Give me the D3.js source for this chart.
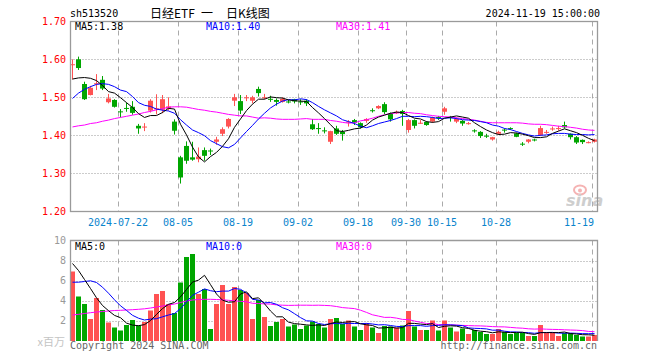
<!DOCTYPE html>
<html><head><meta charset="utf-8">
<script src="https://cdn.jsdelivr.net/npm/d3@7"></script>
<style>
html,body{margin:0;padding:0;background:#fff;}
svg{display:block;}
text{font-family:"DejaVu Sans Mono",monospace;font-size:10px;}
</style></head><body>
<svg id="c" width="660" height="360"></svg>
<script>
const dates = [
"2024-07-10","2024-07-11","2024-07-12","2024-07-15","2024-07-16","2024-07-17","2024-07-18","2024-07-19","2024-07-22","2024-07-23",
"2024-07-24","2024-07-25","2024-07-26","2024-07-29","2024-07-30","2024-07-31","2024-08-01","2024-08-02","2024-08-05","2024-08-06",
"2024-08-07","2024-08-08","2024-08-09","2024-08-12","2024-08-13","2024-08-14","2024-08-15","2024-08-16","2024-08-19","2024-08-20",
"2024-08-21","2024-08-22","2024-08-23","2024-08-26","2024-08-27","2024-08-28","2024-08-29","2024-08-30","2024-09-02","2024-09-03",
"2024-09-04","2024-09-05","2024-09-06","2024-09-09","2024-09-10","2024-09-11","2024-09-12","2024-09-13","2024-09-18","2024-09-19",
"2024-09-20","2024-09-23","2024-09-24","2024-09-25","2024-09-26","2024-09-27","2024-09-30","2024-10-08","2024-10-09","2024-10-10",
"2024-10-11","2024-10-14","2024-10-15","2024-10-16","2024-10-17","2024-10-18","2024-10-21","2024-10-22","2024-10-23","2024-10-24",
"2024-10-25","2024-10-28","2024-10-29","2024-10-30","2024-10-31","2024-11-01","2024-11-04","2024-11-05","2024-11-06","2024-11-07",
"2024-11-08","2024-11-11","2024-11-12","2024-11-13","2024-11-14","2024-11-15","2024-11-18","2024-11-19"];
const tickDates = ["2024-07-22","2024-08-05","2024-08-19","2024-09-02","2024-09-18","2024-09-30","2024-10-15","2024-10-28","2024-11-19"];
const tickLabels = ["2024-07-22","08-05","08-19","09-02","09-18","09-30","10-15","10-28","11-19"];
const open = [
1.585,1.600,1.535,1.506,1.535,1.546,1.487,1.493,1.463,1.472,
1.475,1.425,1.422,1.465,1.470,1.467,1.470,1.436,1.342,1.372,
1.342,1.337,1.361,1.360,1.383,1.404,1.423,1.491,1.490,1.499,
1.491,1.522,1.499,1.496,1.493,1.488,1.489,1.495,1.489,1.491,
1.429,1.419,1.413,1.383,1.418,1.409,1.435,1.440,1.432,1.438,
1.466,1.471,1.482,1.456,1.458,1.464,1.414,1.440,1.432,1.435,
1.436,1.448,1.462,1.448,1.436,1.438,1.431,1.413,1.409,1.399,
1.389,1.404,1.415,1.419,1.405,1.378,1.383,1.389,1.401,1.408,
1.417,1.418,1.427,1.404,1.395,1.388,1.381,1.383];
const high = [
1.600,1.607,1.541,1.530,1.561,1.556,1.509,1.495,1.469,1.486,
1.490,1.430,1.432,1.495,1.508,1.506,1.500,1.442,1.346,1.384,
1.383,1.368,1.368,1.365,1.396,1.421,1.445,1.509,1.506,1.506,
1.504,1.528,1.509,1.504,1.497,1.500,1.493,1.496,1.495,1.495,
1.443,1.432,1.421,1.412,1.425,1.414,1.440,1.443,1.434,1.445,
1.471,1.479,1.487,1.460,1.465,1.467,1.443,1.442,1.440,1.437,
1.449,1.451,1.475,1.451,1.447,1.440,1.435,1.416,1.411,1.404,
1.396,1.412,1.418,1.421,1.407,1.382,1.390,1.391,1.425,1.414,
1.423,1.425,1.436,1.405,1.398,1.389,1.384,1.391];
const low = [
1.547,1.572,1.493,1.505,1.519,1.519,1.484,1.473,1.447,1.462,
1.454,1.404,1.411,1.460,1.455,1.458,1.465,1.402,1.273,1.325,
1.333,1.329,1.333,1.348,1.375,1.398,1.418,1.477,1.456,1.490,
1.484,1.502,1.495,1.488,1.478,1.486,1.484,1.484,1.480,1.477,
1.414,1.404,1.405,1.377,1.401,1.386,1.423,1.427,1.418,1.433,
1.460,1.469,1.456,1.436,1.456,1.425,1.407,1.418,1.430,1.425,
1.433,1.440,1.454,1.436,1.432,1.425,1.428,1.407,1.393,1.393,
1.386,1.401,1.407,1.414,1.395,1.372,1.379,1.384,1.398,1.404,
1.412,1.412,1.418,1.389,1.377,1.377,1.379,1.381];
const close = [
1.587,1.577,1.495,1.525,1.537,1.523,1.497,1.475,1.462,1.471,
1.459,1.418,1.423,1.491,1.471,1.495,1.476,1.412,1.289,1.333,
1.336,1.344,1.346,1.359,1.389,1.416,1.443,1.500,1.465,1.500,
1.500,1.511,1.500,1.495,1.488,1.496,1.488,1.489,1.488,1.484,
1.416,1.418,1.412,1.411,1.404,1.403,1.436,1.433,1.421,1.443,
1.465,1.477,1.461,1.442,1.462,1.456,1.440,1.425,1.433,1.427,
1.447,1.447,1.471,1.447,1.443,1.431,1.432,1.412,1.398,1.398,
1.395,1.409,1.414,1.418,1.396,1.377,1.389,1.388,1.419,1.409,
1.418,1.419,1.421,1.395,1.381,1.382,1.382,1.389];
const ma5 = [
1.548,1.551,1.552,1.550,1.544,1.531,1.515,1.511,1.499,1.486,
1.473,1.457,1.447,1.452,1.452,1.460,1.471,1.469,1.429,1.401,
1.369,1.343,1.330,1.344,1.355,1.371,1.391,1.421,1.443,1.465,
1.482,1.495,1.495,1.501,1.499,1.498,1.493,1.491,1.490,1.489,
1.473,1.459,1.444,1.428,1.412,1.410,1.413,1.417,1.419,1.427,
1.440,1.448,1.453,1.458,1.461,1.460,1.452,1.445,1.443,1.436,
1.434,1.436,1.445,1.448,1.451,1.448,1.445,1.433,1.423,1.414,
1.407,1.402,1.403,1.407,1.406,1.403,1.399,1.394,1.394,1.396,
1.405,1.411,1.417,1.412,1.407,1.400,1.392,1.386];
const ma10 = [
1.497,1.511,1.521,1.528,1.534,1.536,1.534,1.528,1.519,1.515,
1.502,1.486,1.479,1.476,1.469,1.466,1.464,1.458,1.441,1.427,
1.414,1.407,1.399,1.386,1.378,1.370,1.367,1.376,1.393,1.410,
1.426,1.443,1.458,1.472,1.482,1.490,1.494,1.493,1.496,1.494,
1.486,1.476,1.467,1.459,1.451,1.441,1.436,1.431,1.424,1.420,
1.425,1.431,1.435,1.439,1.444,1.450,1.450,1.449,1.450,1.449,
1.447,1.444,1.445,1.446,1.444,1.441,1.440,1.439,1.436,1.433,
1.427,1.424,1.418,1.415,1.410,1.405,1.401,1.398,1.400,1.401,
1.404,1.405,1.405,1.403,1.402,1.402,1.401,1.402];
const ma30 = [
1.422,1.425,1.427,1.431,1.433,1.437,1.440,1.444,1.447,1.450,
1.453,1.456,1.460,1.463,1.467,1.470,1.474,1.475,1.475,1.474,
1.471,1.468,1.466,1.463,1.461,1.458,1.455,1.453,1.451,1.451,
1.448,1.445,1.446,1.445,1.443,1.442,1.442,1.442,1.443,1.444,
1.442,1.442,1.442,1.439,1.437,1.434,1.432,1.433,1.438,1.441,
1.445,1.450,1.454,1.457,1.459,1.460,1.460,1.458,1.457,1.454,
1.452,1.450,1.449,1.448,1.446,1.444,1.442,1.440,1.437,1.434,
1.433,1.433,1.433,1.433,1.433,1.432,1.430,1.429,1.429,1.428,
1.426,1.424,1.423,1.421,1.419,1.416,1.414,1.413];
const volume = [
6.90,4.40,3.65,2.15,4.25,3.05,1.80,1.30,1.00,1.55,
2.05,1.50,1.85,3.00,4.65,4.95,3.65,2.75,5.80,8.35,
8.65,4.65,5.15,1.15,3.65,5.55,3.65,5.35,5.05,4.75,
2.15,4.05,2.35,1.45,1.85,2.15,1.40,1.60,1.15,1.50,
1.90,1.65,1.30,2.15,2.25,1.65,2.00,1.40,1.05,1.75,
1.30,0.75,1.45,1.40,1.30,1.50,2.95,1.40,1.05,1.05,
2.00,1.00,2.00,1.30,0.90,1.20,0.65,1.05,0.85,0.65,
0.65,1.15,0.85,0.65,0.75,0.75,0.45,0.45,1.55,0.75,
0.75,0.45,0.75,0.75,0.55,0.40,0.40,0.55];
const vma5 = [
7.70,7.00,6.10,5.20,4.27,3.50,2.98,2.51,2.28,1.74,
1.54,1.48,1.59,1.99,2.61,3.19,3.62,3.80,4.36,5.10,
5.84,6.04,6.52,5.59,4.65,4.03,3.83,3.87,4.65,4.87,
4.19,4.27,3.67,2.95,2.37,2.37,1.84,1.69,1.63,1.56,
1.51,1.56,1.50,1.70,1.85,1.80,1.87,1.89,1.67,1.57,
1.50,1.25,1.26,1.33,1.24,1.28,1.72,1.71,1.64,1.59,
1.69,1.30,1.42,1.47,1.44,1.28,1.21,1.02,0.93,0.88,
0.77,0.87,0.83,0.79,0.81,0.83,0.69,0.61,0.79,0.79,
0.79,0.79,0.85,0.69,0.65,0.58,0.57,0.53];
const vma10 = [
5.83,5.83,5.90,5.97,5.80,5.33,4.73,4.07,3.47,3.01,
2.52,2.23,2.05,2.14,2.18,2.37,2.55,2.70,3.18,3.86,
4.52,4.83,5.16,4.98,4.88,4.94,4.94,5.20,5.12,4.76,
4.11,4.05,3.77,3.80,3.62,3.28,3.06,2.68,2.29,1.97,
1.94,1.70,1.60,1.67,1.71,1.66,1.72,1.70,1.69,1.71,
1.65,1.56,1.58,1.50,1.41,1.39,1.49,1.49,1.49,1.42,
1.49,1.51,1.57,1.56,1.52,1.49,1.26,1.22,1.20,1.16,
1.03,1.04,0.93,0.86,0.85,0.80,0.78,0.72,0.79,0.80,
0.81,0.74,0.73,0.74,0.72,0.69,0.68,0.69];
const vma30 = [
2.55,2.62,2.70,2.78,2.85,2.90,2.95,3.00,3.02,3.05,
3.08,3.12,3.17,3.25,3.35,3.45,3.55,3.65,3.80,3.95,
4.05,4.10,4.12,4.12,4.10,4.07,4.02,3.97,3.92,3.87,
3.72,3.70,3.66,3.64,3.56,3.53,3.51,3.52,3.53,3.53,
3.52,3.53,3.51,3.48,3.40,3.29,3.24,3.19,3.03,2.81,
2.57,2.44,2.31,2.32,2.24,2.11,2.09,1.95,1.82,1.70,
1.69,1.59,1.58,1.57,1.54,1.51,1.49,1.47,1.46,1.43,
1.39,1.37,1.36,1.31,1.26,1.23,1.17,1.14,1.16,1.13,
1.11,1.10,1.07,1.05,1.03,0.99,0.91,0.88];
const priceTicks = [1.70,1.60,1.50,1.40,1.30,1.20];
const volTicks = [10,8,6,4,2];
const priceMaLabels = ["MA5:1.38","MA10:1.40","MA30:1.41"];
const volMaLabels = ["MA5:0","MA10:0","MA30:0"];
const maColors = ["#000000","#0000ff","#ff00ff"];

const RED = "#ff5252", GREEN = "#00a600";
const svg = d3.select("#c");
const L = 70.5, R = 597.5, PT = 21.5, PB = 211.5, VT = 240.5, VB = 341;

const x = d3.scaleBand().domain(dates).range([70, 70 + 6 * dates.length]).padding(0);
const cx = d => x(d) + 2.5;
const yP = d3.scaleLinear().domain([1.2, 1.7]).range([211.3, 21.3]);
const yV = d3.scaleLinear().domain([0, 10]).range([340.5, 240.5]);

// header
svg.append("text").attr("x", 70).attr("y", 17).text("sh513520");
const title = svg.append("text").attr("y", 18)
  .style("font-family", "'Noto Sans CJK SC',sans-serif").style("font-size", "12px");
title.append("tspan").attr("x", 150).text("日经ETF");
title.append("tspan").attr("x", 201).text("一");
title.append("tspan").attr("x", 226).text("日K线图");
svg.append("text").attr("x", 600).attr("y", 17).attr("text-anchor", "end").text("2024-11-19 15:00:00");

// grids
function vgrid(top, bot) {
  svg.append("g").selectAll("line").data(tickDates).join("line")
    .attr("x1", d => x(d) + 0.5).attr("x2", d => x(d) + 0.5)
    .attr("y1", top).attr("y2", bot)
    .attr("stroke", "#aaa").attr("stroke-dasharray", "5,4");
}
vgrid(PT, PB); vgrid(VT, VB);
svg.append("g").selectAll("line").data(priceTicks.filter(v => v > 1.2 && v < 1.7)).join("line")
  .attr("x1", L).attr("x2", R).attr("y1", d => Math.round(yP(d)) + 0.5).attr("y2", d => Math.round(yP(d)) + 0.5)
  .attr("stroke", "#999").attr("stroke-dasharray", "1,2");
svg.append("g").selectAll("line").data(volTicks.filter(v => v < 10)).join("line")
  .attr("x1", L).attr("x2", R).attr("y1", d => Math.round(yV(d)) + 0.5).attr("y2", d => Math.round(yV(d)) + 0.5)
  .attr("stroke", "#999").attr("stroke-dasharray", "1,2");

// price labels
svg.append("g").selectAll("text").data(priceTicks).join("text")
  .attr("x", 66).attr("y", d => yP(d) + 3.8).attr("text-anchor", "end").attr("fill", "#ff0000")
  .text(d => d.toFixed(2));
// volume labels
svg.append("g").selectAll("text").data(volTicks).join("text")
  .attr("x", 66).attr("y", d => yV(d) + 3.8).attr("text-anchor", "end").attr("fill", "#999")
  .text(d => d);
svg.append("text").attr("x", 65).attr("y", 346).attr("text-anchor", "end")
  .style("font-family", "'Noto Sans CJK SC',sans-serif").style("font-size", "11px").attr("fill", "#c4c4c4").text("x百万");

// date labels
svg.append("g").selectAll("text").data(tickDates).join("text")
  .attr("x", (d, i) => i === tickDates.length - 1 ? x(d) + 2 : x(d))
  .attr("y", 226).attr("text-anchor", (d, i) => i === tickDates.length - 1 ? "end" : "middle")
  .attr("fill", "#0a84cc").text((d, i) => tickLabels[i]);

// sina watermark
const wm = svg.append("g").attr("opacity", 0.85);
wm.append("ellipse").attr("cx", 580).attr("cy", 190).attr("rx", 6).attr("ry", 4.5)
  .attr("fill", "none").attr("stroke", "#f4a6a6").attr("stroke-width", 2);
wm.append("circle").attr("cx", 580).attr("cy", 190.5).attr("r", 2).attr("fill", "#f4a6a6");
wm.append("text").attr("x", 566).attr("y", 206).style("font-family", "'DejaVu Sans',sans-serif")
  .style("font-size", "16px").style("font-style", "italic").style("font-weight", "bold")
  .attr("fill", "#c6c6c6").text("sina");

// candles
const up = i => close[i] >= open[i];
const cg = svg.append("g");
cg.selectAll("line").data(dates).join("line")
  .attr("x1", d => cx(d)).attr("x2", d => cx(d))
  .attr("y1", (d, i) => yP(high[i])).attr("y2", (d, i) => yP(low[i]))
  .attr("stroke", (d, i) => up(i) ? RED : GREEN).attr("stroke-width", 1);
cg.selectAll("rect").data(dates).join("rect")
  .attr("x", d => x(d)).attr("width", 5)
  .attr("y", (d, i) => Math.min(yP(open[i]), yP(close[i])))
  .attr("height", (d, i) => Math.max(1, Math.abs(yP(open[i]) - yP(close[i]))))
  .attr("fill", (d, i) => up(i) ? RED : GREEN);

// volume bars
svg.append("g").selectAll("rect").data(dates).join("rect")
  .attr("x", d => x(d)).attr("width", 5)
  .attr("y", (d, i) => yV(volume[i])).attr("height", (d, i) => VB - yV(volume[i]))
  .attr("fill", (d, i) => up(i) ? RED : GREEN);

// MA lines
function maLine(arr, y, color) {
  const ln = d3.line().x((d, i) => cx(dates[i])).y(d => y(d));
  svg.append("path").attr("d", ln(arr)).attr("fill", "none").attr("stroke", color).attr("stroke-width", 1);
}
maLine(ma30, yP, maColors[2]); maLine(ma10, yP, maColors[1]); maLine(ma5, yP, maColors[0]);
maLine(vma30, yV, maColors[2]); maLine(vma10, yV, maColors[1]); maLine(vma5, yV, maColors[0]);

// frames
svg.append("rect").attr("x", L).attr("y", PT).attr("width", R - L).attr("height", PB - PT)
  .attr("fill", "none").attr("stroke", "#9a9a9a").attr("stroke-width", 1.3);
svg.append("path").attr("d", `M${L},${VB}V${VT}H${R}V${VB}`)
  .attr("fill", "none").attr("stroke", "#9a9a9a").attr("stroke-width", 1.3);

// MA legends
const lx = [75, 206, 336];
priceMaLabels.forEach((t, i) => svg.append("text").attr("x", lx[i]).attr("y", 30).attr("fill", maColors[i]).text(t));
volMaLabels.forEach((t, i) => svg.append("text").attr("x", lx[i]).attr("y", 250).attr("fill", maColors[i]).text(t));

// footer
svg.append("text").attr("x", 70).attr("y", 349).attr("fill", "#666").text("Copyright 2024 SINA.COM");
svg.append("text").attr("x", 597).attr("y", 349).attr("text-anchor", "end").attr("fill", "#666").text("http://finance.sina.com.cn");
</script>
</body></html>
